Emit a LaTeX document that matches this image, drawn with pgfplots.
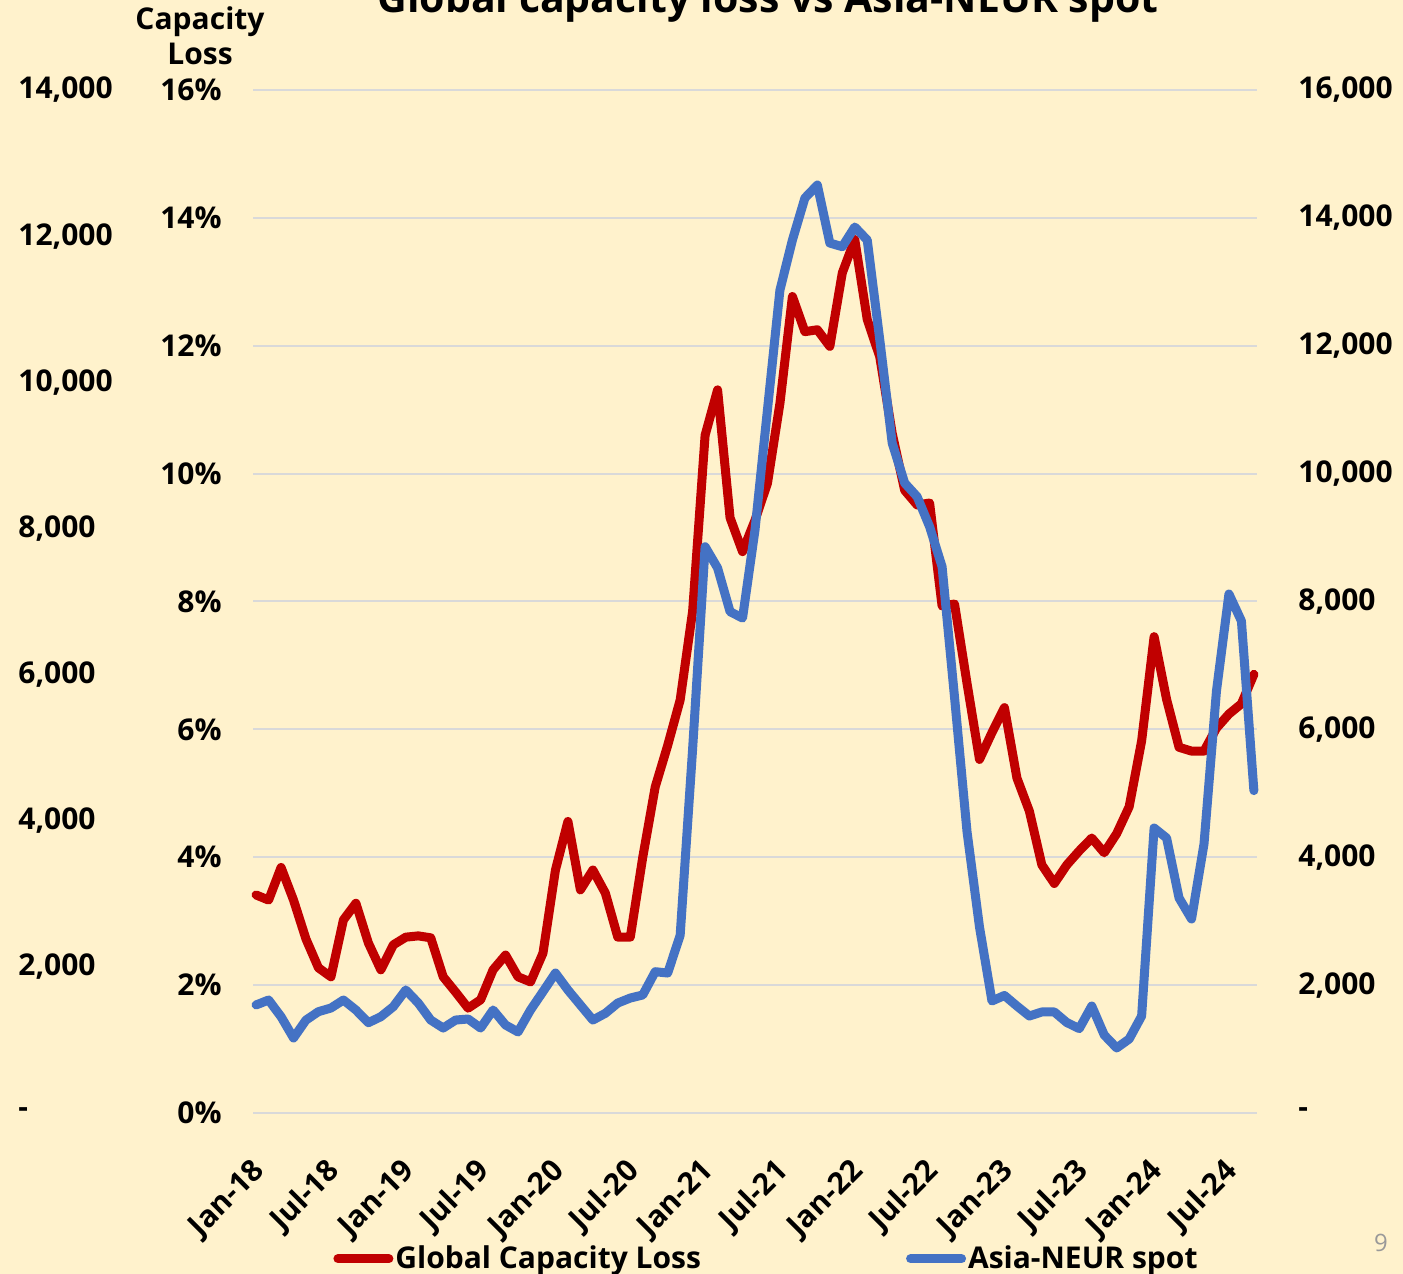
\documentclass[border=0pt]{standalone}
\usepackage{pgfplots}
\usepackage{pgfplotstable}
\pgfplotsset{compat=1.18}
\usepackage{fontspec}
\setmainfont{Open Sans}
\definecolor{bg}{HTML}{FFF2CC}
\definecolor{redl}{HTML}{C00000}
\definecolor{bluel}{HTML}{4472C4}
\definecolor{gridc}{HTML}{D9D9D9}

\pgfplotstableread{
i red blue
0 3.41 1690
1 3.33 1767
2 3.84 1506
3 3.33 1173
4 2.72 1454
5 2.27 1585
6 2.13 1642
7 3.02 1767
8 3.28 1611
9 2.66 1412
10 2.24 1506
11 2.63 1663
12 2.75 1924
13 2.77 1720
14 2.74 1454
15 2.13 1329
16 1.89 1454
17 1.64 1470
18 1.77 1329
19 2.24 1611
20 2.47 1376
21 2.13 1267
22 2.05 1611
23 2.50 1898
24 3.80 2189
25 4.56 1924
26 3.49 1689
27 3.80 1454
28 3.44 1559
29 2.75 1720
30 2.75 1798
31 4.00 1846
32 5.10 2210
33 5.75 2189
34 6.46 2780
35 7.85 5700
36 10.60 8857
37 11.31 8524
38 9.31 7841
39 8.78 7741
40 9.27 9118
41 9.85 11000
42 11.10 12871
43 12.77 13653
44 12.22 14310
45 12.25 14513
46 11.99 13606
47 13.14 13549
48 13.66 13857
49 12.41 13653
50 11.83 12100
51 10.63 10478
52 9.74 9853
53 9.51 9639
54 9.54 9170
55 7.93 8544
56 7.96 6500
57 6.72 4400
58 5.53 2909
59 5.95 1752
60 6.34 1838
61 5.24 1673
62 4.72 1517
63 3.88 1580
64 3.59 1580
65 3.88 1415
66 4.10 1320
67 4.30 1673
68 4.07 1220
69 4.37 1017
70 4.79 1157
71 5.82 1517
72 7.45 4457
73 6.47 4301
74 5.72 3363
75 5.66 3034
76 5.66 4207
77 6.02 6600
78 6.24 8117
79 6.40 7695
80 6.86 5042
}\datatable

\newcommand{\lblfont}{\fontsize{15}{17}\selectfont\bfseries}

\begin{document}
\begin{tikzpicture}[x=1pt,y=1pt]
\fill[bg] (0,0) rectangle (701.5,637);
\pgfplotsset{
  base/.style={
    at={(126.5pt,80.5pt)}, anchor=south west,
    scale only axis, width=502pt, height=511.5pt,
    xmin=-0.25, xmax=80.25, ymin=0,
    axis line style={draw=none},
    major tick length=0pt,
    scaled y ticks=false, scaled x ticks=false,
    tick label style={font=\lblfont, inner sep=0pt},
    clip=false,
  },
}
\begin{axis}[base,
  ymax=16, ytick={0,2,...,16},
  yticklabels={0\%,2\%,4\%,6\%,8\%,10\%,12\%,14\%,16\%},
  yticklabel style={anchor=east, xshift=-15.5pt},
  ymajorgrids, grid style={gridc, line width=1pt},
  xtick={0,6,...,78},
  xticklabels={Jan-18,Jul-18,Jan-19,Jul-19,Jan-20,Jul-20,Jan-21,Jul-21,Jan-22,Jul-22,Jan-23,Jul-23,Jan-24,Jul-24},
  xticklabel style={rotate=45, anchor=east, xshift=-17.4pt, yshift=-20.6pt},
  legend columns=2,
  legend image code/.code={\draw[#1, line cap=round] (2.25pt,0pt) -- (27.75pt,0pt);},
  legend style={at={(rel axis cs:0.0797,-0.1425)}, anchor=west, draw=none, fill=none,
    font=\lblfont, inner sep=0pt,
    nodes={inner xsep=1pt, inner ysep=0pt},
    /tikz/every even column/.append style={column sep=101.5pt}},
]
\addplot[redl, line width=4.5pt, line join=round, line cap=round] table[x=i,y=red]{\datatable};
\addlegendentry{Global Capacity Loss}
\addlegendimage{bluel, line width=4.5pt}
\addlegendentry{Asia-NEUR spot}
\end{axis}
\begin{axis}[base,
  ymax=16000, ytick={0,2000,...,16000},
  yticklabels={-,{2,000},{4,000},{6,000},{8,000},{10,000},{12,000},{14,000},{16,000}},
  axis y line*=right, hide x axis,
  yticklabel style={anchor=west, xshift=20.5pt},
]
\addplot[bluel, line width=4.5pt, line join=round, line cap=round] table[x=i,y=blue]{\datatable};
\end{axis}
\begin{axis}[base,
  ymax=14000, ytick={0,2000,...,14000},
  yticklabels={-,{2,000},{4,000},{6,000},{8,000},{10,000},{12,000},{14,000}},
  axis y line*=left, hide x axis,
  yticklabel style={anchor=west, xshift=-117.5pt},
]
\end{axis}
\node[font=\fontsize{20.5}{24}\selectfont\bfseries, anchor=base] at (384,630.5) {Global capacity loss vs Asia-NEUR spot};
\node[font=\lblfont, anchor=base] at (100,622) {Capacity};
\node[font=\lblfont, anchor=base] at (100,604.5) {Loss};
\node[font=\fontsize{12}{14}\selectfont, text=black!40, anchor=base] at (690.5,11) {9};
\pgfresetboundingbox
\useasboundingbox (0,0) rectangle (701.5,637);
\end{tikzpicture}
\end{document}
